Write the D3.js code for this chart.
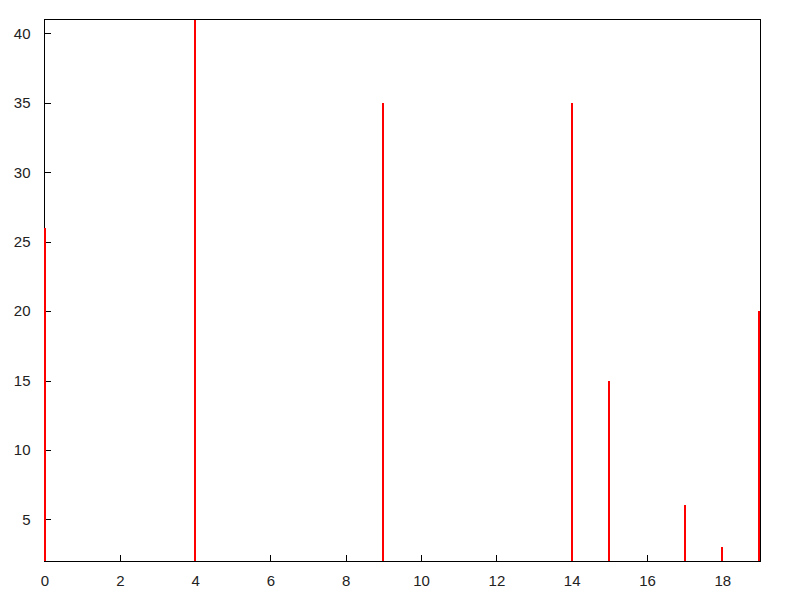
<!DOCTYPE html>
<html>
<head>
<meta charset="utf-8">
<script src="https://cdn.jsdelivr.net/npm/d3@7"></script>
<style>
body{margin:0;background:#fff;}
text{font-family:"Liberation Sans",Arial,sans-serif;font-size:15px;fill:#222;}
line,rect{shape-rendering:crispEdges;}
</style>
</head>
<body>
<div id="plot"></div>
<script>
// impulse data
var xs = [0, 4, 9, 14, 15, 17, 18, 19];
var ys = [26, 41, 35, 35, 15, 6, 3, 20];
var xTicks = [0, 2, 4, 6, 8, 10, 12, 14, 16, 18];
var yTicks = [5, 10, 15, 20, 25, 30, 35, 40];

var W = 800, H = 600;
var margin = {t:19.5, r:40, b:39, l:44.5};

var svg = d3.select('#plot').append('svg')
	.attr('width', W).attr('height', H);

var x = d3.scaleLinear().domain([0, 19]).range([margin.l, W - margin.r]);
var y = d3.scaleLinear().domain([2, 41]).range([H - margin.b, margin.t]);

// inward ticks
svg.append('g')
	.attr('transform', 'translate(0,' + (H - margin.b) + ')')
	.call(d3.axisBottom(x).tickValues(xTicks).tickSize(-6).tickPadding(11).tickFormat(d3.format('d')))
	.call(function(g){ g.select('.domain').remove(); g.selectAll('line').attr('stroke','#000'); g.selectAll('text').attr('dy','0.9em'); });

svg.append('g')
	.attr('transform', 'translate(' + margin.l + ',0)')
	.call(d3.axisLeft(y).tickValues(yTicks).tickSize(-6).tickPadding(14).tickFormat(d3.format('d')))
	.call(function(g){ g.select('.domain').remove(); g.selectAll('line').attr('stroke','#000'); });

// border
svg.append('rect')
	.attr('x', x(0)).attr('y', y(41))
	.attr('width', x(19) - x(0)).attr('height', y(2) - y(41))
	.attr('fill', 'none').attr('stroke', '#000').attr('stroke-width', 1);

// impulses
svg.selectAll('line.imp')
	.data(xs)
	.enter().append('line')
	.attr('class', 'imp')
	.attr('x1', function(d){ return x(d) === x(19) ? x(d) - 1 : x(d); })
	.attr('x2', function(d){ return x(d) === x(19) ? x(d) - 1 : x(d); })
	.attr('y1', y(2))
	.attr('y2', function(d, i){ return y(ys[i]); })
	.attr('stroke', '#f00')
	.attr('stroke-width', 2);
</script>
</body>
</html>
